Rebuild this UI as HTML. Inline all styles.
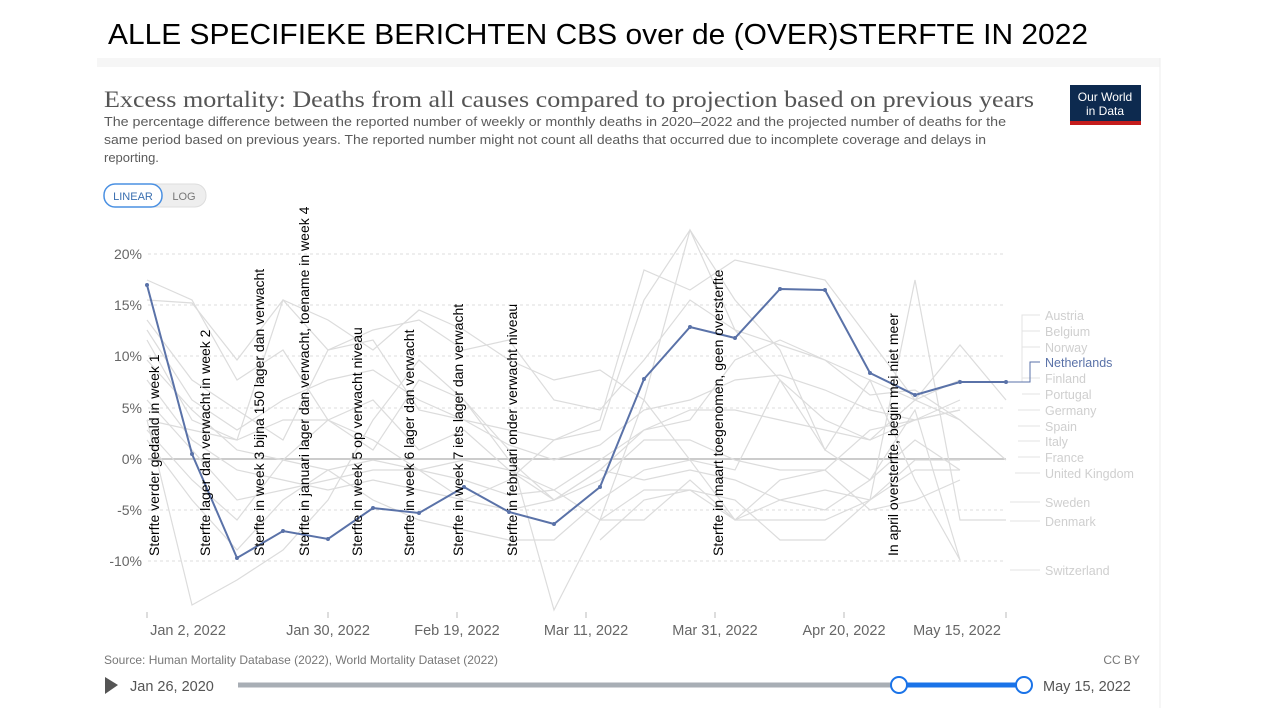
<!DOCTYPE html>
<html><head><meta charset="utf-8"><style>
body{margin:0;background:#fff;width:1280px;height:720px;overflow:hidden}
svg{display:block}
</style></head><body>
<svg width="1280" height="720" xmlns="http://www.w3.org/2000/svg" font-family="Liberation Sans, sans-serif">
<rect x="97" y="58" width="1063" height="650" fill="#fff"/>
<rect x="97" y="58" width="1063" height="9" fill="#f6f6f6"/>
<line x1="1160" y1="58" x2="1160" y2="708" stroke="#eee"/>
<text x="108" y="44" font-size="29" fill="#000" textLength="980" lengthAdjust="spacingAndGlyphs">ALLE SPECIFIEKE BERICHTEN CBS over de (OVER)STERFTE IN 2022</text>
<text x="104" y="107" font-family="Liberation Serif, serif" font-size="23" fill="#555" textLength="930" lengthAdjust="spacingAndGlyphs">Excess mortality: Deaths from all causes compared to projection based on previous years</text>
<g font-size="13" fill="#5b5b5b">
<text x="104" y="126" textLength="902" lengthAdjust="spacingAndGlyphs">The percentage difference between the reported number of weekly or monthly deaths in 2020–2022 and the projected number of deaths for the</text>
<text x="104" y="144" textLength="882" lengthAdjust="spacingAndGlyphs">same period based on previous years. The reported number might not count all deaths that occurred due to incomplete coverage and delays in</text>
<text x="104" y="162">reporting.</text>
</g>
<rect x="1070" y="85" width="71" height="40" fill="#0d2a4f"/>
<rect x="1070" y="121" width="71" height="4" fill="#c41c1c"/>
<text x="1105" y="101" font-size="12" fill="#fff" text-anchor="middle">Our World</text>
<text x="1105" y="115" font-size="12" fill="#fff" text-anchor="middle">in Data</text>
<rect x="104" y="184" width="102" height="23" rx="11" fill="#eee" stroke="#ddd"/>
<rect x="104" y="184" width="58" height="23" rx="11" fill="#fff" stroke="#4a90e2" stroke-width="1.5"/>
<text x="133" y="200" font-size="11" fill="#3a6fb0" text-anchor="middle">LINEAR</text>
<text x="184" y="200" font-size="11" fill="#777" text-anchor="middle">LOG</text>
<!-- grid -->
<g stroke="#ddd" stroke-dasharray="3,3">
<line x1="148" y1="254" x2="1006" y2="254"/><line x1="148" y1="305" x2="1006" y2="305"/>
<line x1="148" y1="356" x2="1006" y2="356"/><line x1="148" y1="408" x2="1006" y2="408"/>
<line x1="148" y1="510" x2="1006" y2="510"/><line x1="148" y1="561" x2="1006" y2="561"/>
</g>
<line x1="148" y1="459" x2="1006" y2="459" stroke="#bbb" stroke-width="1.5"/>
<g font-size="14" fill="#666" text-anchor="end">
<text x="142" y="259">20%</text><text x="142" y="310">15%</text><text x="142" y="361">10%</text>
<text x="142" y="413">5%</text><text x="142" y="464">0%</text><text x="142" y="515">-5%</text><text x="142" y="566">-10%</text>
</g>
<!-- background series -->
<g fill="none" stroke="#dcdcdc" stroke-width="1.2">
<polyline points="147,300 192,303 237,360 283,300 328,350 373,330 419,320 464,350 509,340 554,400 600,410 644,360 690,300 735,330 780,345 825,360 870,395 915,390 960,420 1006,460"/>
<polyline points="147,330 192,400 237,430 283,400 328,380 373,370 419,400 464,420 509,430 554,440 600,430 644,300 690,230 735,330 780,380 825,420 870,440 915,420 960,400"/>
<polyline points="147,320 192,380 237,410 283,440 328,350 373,340 419,410 464,420 509,445 554,460 600,445 644,410 690,400 735,380 780,375 825,390 870,410 915,420 960,410"/>
<polyline points="147,340 192,420 237,440 283,420 328,420 373,400 419,450 464,430 509,470 554,500 600,470 644,430 690,420 735,360 780,340 825,360 870,380 915,400 960,380"/>
<polyline points="147,360 192,410 237,450 283,460 328,470 373,460 419,470 464,480 509,495 554,490 600,460 644,430 690,410 735,410 780,420 825,430 870,440 915,400 960,420"/>
<polyline points="147,380 192,440 237,470 283,480 328,490 373,480 419,490 464,500 509,510 554,500 600,480 644,440 690,440 735,460 780,470 825,470 870,430 915,420 960,410"/>
<polyline points="147,400 192,450 237,500 283,490 328,480 373,470 419,470 464,460 509,470 554,490 600,520 644,520 690,480 735,520 780,480 825,470 870,510 915,500 960,480"/>
<polyline points="147,430 192,480 237,520 283,460 328,420 373,450 419,380 464,400 509,460 554,500 600,470 644,480 690,470 735,480 780,500 825,490 870,500 915,460 960,460"/>
<polyline points="147,420 192,605 237,580 283,550 328,500 373,420 419,360 464,400 509,450 554,610 600,520 644,490 690,490 735,520 780,500 825,510 870,480 915,440 960,470"/>
<polyline points="147,420 192,430 237,440 283,300 328,320 373,350 419,310 464,330 509,360 554,380 600,370 644,400 690,460 735,470 780,380 825,450 870,480 915,410 960,560"/>
<polyline points="147,440 192,500 237,550 283,500 328,470 373,500 419,520 464,530 509,540 554,540 600,500 644,470 690,460 735,520 780,520 825,520 870,500 915,280 960,520 1006,520"/>
<polyline points="600,520 644,400 690,230 735,300 780,350 825,450 870,380 915,480 960,560"/>
<polyline points="600,540 644,500 690,490 735,500 780,540 825,540 870,500 915,470 960,470"/>
<polyline points="147,280 192,300 237,380 283,350 328,420 373,440 419,470 464,500 509,480 554,440 600,420 644,270 690,290 735,260 780,270 825,280 870,340 915,400 960,345 1006,400"/>
</g>
<!-- Netherlands -->
<polyline fill="none" stroke="#5a72a8" stroke-width="2" points="147,285 192,454 237,558 283,531 328,539 373,508 419,513 464,487 509,512 554,524 600,487 644,379 690,327 735,338 780,289 825,290 870,373 915,395 960,382 1006,382"/>
<g fill="#5a72a8">
<circle cx="147" cy="285" r="2"/><circle cx="192" cy="454" r="2"/><circle cx="237" cy="558" r="2"/><circle cx="283" cy="531" r="2"/><circle cx="328" cy="539" r="2"/><circle cx="373" cy="508" r="2"/><circle cx="419" cy="513" r="2"/><circle cx="464" cy="487" r="2"/><circle cx="509" cy="512" r="2"/><circle cx="554" cy="524" r="2"/><circle cx="600" cy="487" r="2"/><circle cx="644" cy="379" r="2"/><circle cx="690" cy="327" r="2"/><circle cx="735" cy="338" r="2"/><circle cx="780" cy="289" r="2"/><circle cx="825" cy="290" r="2"/><circle cx="870" cy="373" r="2"/><circle cx="915" cy="395" r="2"/><circle cx="960" cy="382" r="2"/><circle cx="1006" cy="382" r="2"/>
</g>
<!-- legend -->
<g stroke="#e3e3e3" fill="none">
<path d="M1006,382 H1022 V315 H1040 M1022,331 H1040 M1022,347 H1040 M1022,378 H1040 M1022,394 H1040 M1018,410 H1040 M1018,426 H1040 M1018,441 H1040 M1018,457 H1040 M1015,473 H1040 M1010,502 H1040 M1010,521 H1040 M1010,570 H1040"/>
</g>
<path d="M1006,382 H1030 V362 H1040" stroke="#5a72a8" fill="none"/>
<g font-size="12.5" fill="#cfcfcf">
<text x="1045" y="320">Austria</text><text x="1045" y="336">Belgium</text><text x="1045" y="352">Norway</text>
<text x="1045" y="367" fill="#5a72a8">Netherlands</text>
<text x="1045" y="383">Finland</text><text x="1045" y="399">Portugal</text><text x="1045" y="415">Germany</text>
<text x="1045" y="431">Spain</text><text x="1045" y="446">Italy</text><text x="1045" y="462">France</text>
<text x="1045" y="478">United Kingdom</text><text x="1045" y="507">Sweden</text><text x="1045" y="526">Denmark</text><text x="1045" y="575">Switzerland</text>
</g>
<!-- x axis -->
<g stroke="#bbb"><line x1="147" y1="612" x2="147" y2="618"/><line x1="328" y1="612" x2="328" y2="618"/><line x1="457" y1="612" x2="457" y2="618"/><line x1="586" y1="612" x2="586" y2="618"/><line x1="715" y1="612" x2="715" y2="618"/><line x1="844" y1="612" x2="844" y2="618"/><line x1="1006" y1="612" x2="1006" y2="618"/></g>
<g font-size="14.5" fill="#666" text-anchor="middle">
<text x="188" y="635">Jan 2, 2022</text><text x="328" y="635">Jan 30, 2022</text><text x="457" y="635">Feb 19, 2022</text>
<text x="586" y="635">Mar 11, 2022</text><text x="715" y="635">Mar 31, 2022</text><text x="844" y="635">Apr 20, 2022</text><text x="957" y="635">May 15, 2022</text>
</g>
<!-- annotations -->
<g font-size="14" fill="#000">
<text transform="translate(159,556) rotate(-90)">Sterfte verder gedaald in week 1</text>
<text transform="translate(210,556) rotate(-90)">Sterfte lager dan verwacht in week 2</text>
<text transform="translate(264,556) rotate(-90)">Sterfte in week 3 bijna 150 lager dan verwacht</text>
<text transform="translate(309,556) rotate(-90)">Sterfte in januari lager dan verwacht,  toename in week 4</text>
<text transform="translate(362,556) rotate(-90)">Sterfte in week 5 op verwacht niveau</text>
<text transform="translate(414,556) rotate(-90)">Sterfte in week 6 lager dan verwacht</text>
<text transform="translate(463,556) rotate(-90)">Sterfte in week 7 iets lager dan verwacht</text>
<text transform="translate(517,556) rotate(-90)">Sterfte in februari onder  verwacht niveau</text>
<text transform="translate(723,556) rotate(-90)">Sterfte in maart toegenomen,  geen oversterfte</text>
<text transform="translate(898,556) rotate(-90)">In april oversterfte,  begin mei niet meer</text>
</g>
<!-- footer -->
<text x="104" y="664" font-size="12" fill="#777">Source: Human Mortality Database (2022), World Mortality Dataset (2022)</text>
<text x="1140" y="664" font-size="12" fill="#777" text-anchor="end">CC BY</text>
<path d="M105,677 L118,685 L105,694 Z" fill="#555"/>
<text x="130" y="691" font-size="14.5" fill="#555">Jan 26, 2020</text>
<line x1="238" y1="685" x2="899" y2="685" stroke="#a8aeb5" stroke-width="5"/>
<line x1="899" y1="685" x2="1024" y2="685" stroke="#1a73e8" stroke-width="5"/>
<circle cx="899" cy="685" r="8" fill="#fff" stroke="#1a73e8" stroke-width="2"/>
<circle cx="1024" cy="685" r="8" fill="#fff" stroke="#1a73e8" stroke-width="2"/>
<text x="1043" y="691" font-size="14.5" fill="#555">May 15, 2022</text>
</svg>
</body></html>
